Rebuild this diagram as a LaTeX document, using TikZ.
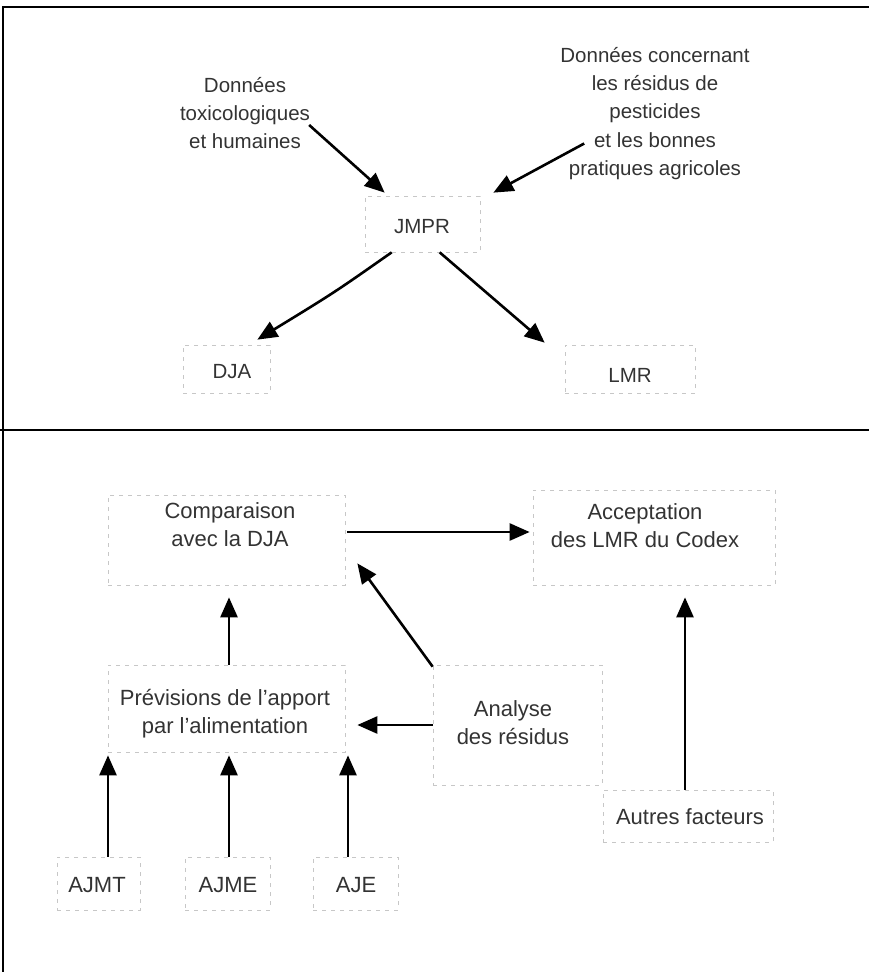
\documentclass[tikz,border=0pt]{standalone}
\usepackage{fontspec}
\setmainfont{Liberation Sans}
\usetikzlibrary{arrows.meta,calc}
\tikzset{
  frameline/.style={line width=2.8pt,line cap=rect},
  fbox/.style={draw=black!22,line width=0.7pt,dash pattern=on 4pt off 5pt,inner sep=0pt,rectangle},
  txt/.style={align=center,text=black!80,inner sep=1pt,font=\fontsize{22}{28}\selectfont},
  txtup/.style={align=center,text=black!80,inner sep=1pt,font=\fontsize{20.5}{28.3}\selectfont},
  arr/.style={line width=2.6pt,-{Triangle[length=20pt,width=17pt]}},
}
\begin{document}
\begin{tikzpicture}[x=1pt,y=-1pt]
\useasboundingbox (0,0) rectangle (869,972);
% frame
\coordinate (tl) at (3,7);
\coordinate (tr) at (869,7);
\coordinate (bl) at (3,972);
\coordinate (dl) at (0,430);
\coordinate (dr) at (869,430);
\draw[frameline] (tr) -- (tl) -- (bl);
\draw[frameline] (dl) -- (dr);

% upper part
\node[txtup] (tox) at (245,113) {Données\\toxicologiques\\et humaines};
\node[txtup] (res) at (655,113.5) {Données concernant\\les résidus de\\pesticides\\et les bonnes\\pratiques agricoles};
\node[fbox,minimum width=115,minimum height=56] (jmprB) at (422.5,224) {};
\node[txtup] (jmpr) at (422,227) {JMPR};
\node[fbox,minimum width=87,minimum height=48] (djaB) at (226.5,369) {};
\node[txtup] (dja) at (232,372) {DJA};
\node[fbox,minimum width=130,minimum height=48] (lmrB) at (630,369) {};
\node[txtup] (lmr) at (630,375) {LMR};

\draw[arr] ($(tox.east)+(-2,12)$) -- ($(jmprB.north west)+(20,-3)$);
\draw[arr] ($(res.west)+(25,30)$) -- ($(jmprB.north east)+(13,-3)$);
\draw[arr] ($(jmprB.south west)+(27,0)$) .. controls ($(jmprB.south west)+(-30,40)$) .. ($(djaB.north east)+(-13,-5)$);
\draw[arr] ($(jmprB.south west)+(75,0)$) -- ($(lmrB.north west)+(-20,-2)$);

% lower part
\node[fbox,minimum width=237,minimum height=90] (compB) at (226.5,540) {};
\node[txt] (comp) at (230,524.5) {Comparaison\\avec la DJA};
\node[fbox,minimum width=242,minimum height=95] (accB) at (654,537.5) {};
\node[txt] (acc) at (645,525.5) {Acceptation\\des LMR du Codex};
\node[fbox,minimum width=237,minimum height=87] (prevB) at (226.5,708.5) {};
\node[txt] (prev) at (225,713.5) {Prévisions de l'apport\\par l'alimentation};
\node[fbox,minimum width=169,minimum height=120] (anaB) at (517.5,725) {};
\node[txt] (ana) at (513,722.5) {Analyse\\des résidus};
\node[fbox,minimum width=170,minimum height=52] (autB) at (688,816) {};
\node[txt] (aut) at (690,817) {Autres facteurs};
\node[fbox,minimum width=83,minimum height=53] (ajmtB) at (98.5,883.5) {};
\node[txt] (ajmt) at (97,885) {AJMT};
\node[fbox,minimum width=85,minimum height=53] (ajmeB) at (227.5,883.5) {};
\node[txt] (ajme) at (228,885) {AJME};
\node[fbox,minimum width=85,minimum height=53] (ajeB) at (355.5,883.5) {};
\node[txt] (aje) at (356,885) {AJE};

\draw[arr] ($(compB.east)+(2,-8)$) -- ($(accB.west)+(-3,-5.5)$);
\draw[arr] ($(prevB.north)+(2.5,0)$) -- ($(compB.south)+(2.5,12)$);
\draw[arr] ($(anaB.north west)+(0,2)$) -- ($(compB.south east)+(12,-22)$);
\draw[arr] (anaB.west) -- ($(anaB.west -| prevB.east)+(12,0)$);
\draw[arr] ($(autB.north)+(-3,0)$) -- ($(autB.north |- accB.south)+(-3,12)$);
\draw[arr] ($(ajmtB.north)+(9.5,0)$) -- ($(ajmtB.north |- prevB.south)+(9.5,3)$);
\draw[arr] ($(ajmeB.north)+(1.5,0)$) -- ($(ajmeB.north |- prevB.south)+(1.5,3)$);
\draw[arr] ($(ajeB.north)+(-7.5,0)$) -- ($(ajeB.north |- prevB.south)+(-7.5,3)$);
\end{tikzpicture}
\end{document}
